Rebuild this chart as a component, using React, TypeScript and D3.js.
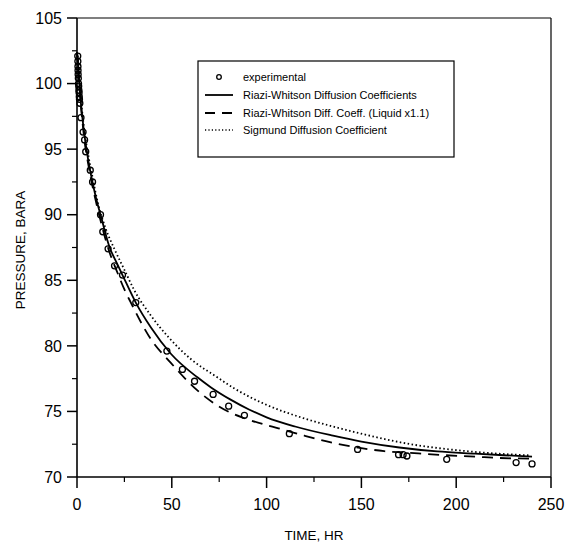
import React from "react";
import * as d3 from "d3";

const W = 567;
const H = 543;

const xTicks = [0, 50, 100, 150, 200, 250];
const yTicks = [70, 75, 80, 85, 90, 95, 100, 105];
const xMinor = [25, 75, 125, 175, 225];
const yMinor = [72.5, 77.5, 82.5, 87.5, 92.5, 97.5, 102.5];

// experimental points: [time hr, pressure bara]
const experimental: [number, number][] = [
  [0.4, 102.1], [0.45, 101.7], [0.5, 101.3], [0.55, 101.0], [0.6, 100.7],
  [0.7, 100.4], [0.8, 100.0], [0.9, 99.8], [1.0, 99.5], [1.1, 99.3],
  [1.2, 99.0], [1.3, 98.8], [1.5, 98.5], [2.1, 97.4], [3.2, 96.3],
  [4.0, 95.7], [4.6, 94.8], [7.0, 93.4], [8.2, 92.5], [12.4, 90.0],
  [13.6, 88.7], [16.4, 87.4], [19.8, 86.1], [24, 85.4], [31, 83.3],
  [47.4, 79.6], [55.6, 78.2], [62, 77.3], [71.8, 76.3], [80, 75.4],
  [88.3, 74.7], [112, 73.3], [148, 72.1], [169.6, 71.7], [172, 71.7],
  [174, 71.6], [195, 71.35], [231.6, 71.1], [240, 71.0],
];

const riaziWhitson: [number, number][] = [
  [0, 102.4], [0.5, 101.7], [1, 100.5], [2, 98.6], [3, 97.2], [4, 96.0],
  [6, 94.1], [8, 92.6], [10, 91.3], [12.6, 89.9], [17, 87.6], [21.4, 86.2],
  [24, 85.4], [31, 83.3], [39, 81.4], [49.5, 79.4], [63.5, 77.6], [70.5, 76.85],
  [81, 75.9], [90.7, 75.15], [100, 74.55], [115, 73.85], [135, 73.15],
  [150, 72.7], [170, 72.25], [190, 71.95], [210, 71.78], [225, 71.66], [240, 71.55],
];

const riaziWhitsonLiquid: [number, number][] = [
  [0, 102.4], [0.5, 101.6], [1, 100.4], [2, 98.4], [3, 96.9], [4, 95.6],
  [6, 93.8], [8, 92.3], [10, 91.0], [12, 89.8], [17, 87.2], [21, 85.7],
  [25, 84.3], [28.4, 83.3], [39, 80.5], [49.5, 78.7], [63.5, 76.6], [81, 74.9],
  [88, 74.5], [100, 73.95], [109, 73.6], [120, 73.15], [135, 72.6],
  [150, 72.2], [162, 71.97], [180, 71.8], [192, 71.68], [210, 71.55],
  [223, 71.45], [239, 71.4],
];

const sigmund: [number, number][] = [
  [0, 102.4], [0.5, 101.9], [1, 100.8], [2, 98.9], [3, 97.5], [4, 96.3],
  [6, 94.5], [8, 93.0], [11, 90.9], [15, 89.0], [20, 87.3], [25, 85.8],
  [30, 84.3], [39, 82.3], [48, 80.7], [60, 79.0], [74, 77.6], [83, 76.75],
  [100, 75.5], [118, 74.55], [135, 73.85], [150, 73.3], [176, 72.5],
  [200, 72.05], [220, 71.8], [239, 71.65],
];

const legendLabels = [
  "experimental",
  "Riazi-Whitson Diffusion Coefficients",
  "Riazi-Whitson Diff. Coeff. (Liquid x1.1)",
  "Sigmund Diffusion Coefficient",
];

const FONT = "'Liberation Sans', Arial, Helvetica, sans-serif";

export default function App() {
  const left = 77, right = 551, top = 18, bottom = 477;
  const x = d3.scaleLinear().domain([0, 250]).range([left, right]);
  const y = d3.scaleLinear().domain([70, 105]).range([bottom, top]);

  const line = d3
    .line<[number, number]>()
    .x((d) => x(d[0]))
    .y((d) => y(d[1]))
    .curve(d3.curveMonotoneX);

  const lx = 205, lx2 = 233, ltx = 243;
  const ly = [77, 95, 113, 130];

  return (
    <svg
      width={W}
      height={H}
      style={{ position: "absolute", left: 0, top: 0, background: "#fff" }}
      fontFamily={FONT}
    >
      <rect x={0} y={0} width={W} height={H} fill="#fff" />
      {/* frame */}
      <line x1={right} x2={right} y1={top} y2={bottom} stroke="#000" strokeWidth={1.2} />
      <line x1={left} x2={right} y1={top} y2={top} stroke="#000" strokeWidth={1.2} />
      <line x1={left} x2={left} y1={top} y2={bottom} stroke="#000" strokeWidth={1.6} />
      <line x1={left} x2={right} y1={bottom} y2={bottom} stroke="#000" strokeWidth={1.6} />

      {/* y ticks */}
      {yTicks.map((t) => (
        <g key={"yt" + t}>
          <line x1={left - 10} x2={left} y1={y(t)} y2={y(t)} stroke="#000" strokeWidth={1.5} />
          <text x={62} y={y(t)} dy="0.36em" textAnchor="end" fontSize={16} fill="#000">
            {t}
          </text>
        </g>
      ))}
      {yMinor.map((t) => (
        <line key={"ym" + t} x1={left - 5} x2={left} y1={y(t)} y2={y(t)} stroke="#000" strokeWidth={1.2} />
      ))}

      {/* x ticks */}
      {xTicks.map((t) => (
        <g key={"xt" + t}>
          <line x1={x(t)} x2={x(t)} y1={bottom} y2={bottom + 11} stroke="#000" strokeWidth={1.5} />
          <text x={x(t)} y={510} textAnchor="middle" fontSize={16} fill="#000">
            {t}
          </text>
        </g>
      ))}
      {xMinor.map((t) => (
        <line key={"xm" + t} x1={x(t)} x2={x(t)} y1={bottom} y2={bottom + 5} stroke="#000" strokeWidth={1.2} />
      ))}

      {/* axis titles */}
      <text
        transform={`translate(25, 250) rotate(-90)`}
        textAnchor="middle"
        fontSize={13.5}
        fill="#000"
      >
        PRESSURE, BARA
      </text>
      <text x={(left + right) / 2} y={540} textAnchor="middle" fontSize={13.5} fill="#000">
        TIME, HR
      </text>

      {/* curves */}
      <path d={line(sigmund) || ""} fill="none" stroke="#000" strokeWidth={1.8} strokeDasharray="1.5,2.5" />
      <path d={line(riaziWhitsonLiquid) || ""} fill="none" stroke="#000" strokeWidth={1.8} strokeDasharray="11,7" />
      <path d={line(riaziWhitson) || ""} fill="none" stroke="#000" strokeWidth={1.8} />

      {/* experimental */}
      {experimental.map((d, i) => (
        <circle key={"e" + i} cx={x(d[0])} cy={y(d[1])} r={3} fill="none" stroke="#000" strokeWidth={1.3} />
      ))}

      {/* legend */}
      <rect x={198} y={61} width={256} height={96} fill="#fff" stroke="#000" strokeWidth={1.2} />
      <circle cx={219} cy={ly[0]} r={2.3} fill="none" stroke="#000" strokeWidth={1.3} />
      <line x1={lx} x2={lx2} y1={ly[1]} y2={ly[1]} stroke="#000" strokeWidth={1.8} />
      <line x1={lx} x2={lx2} y1={ly[2]} y2={ly[2]} stroke="#000" strokeWidth={1.8} strokeDasharray="10,7" />
      <line x1={lx} x2={lx2} y1={ly[3]} y2={ly[3]} stroke="#000" strokeWidth={1.4} strokeDasharray="1.2,2.2" />
      {legendLabels.map((l, i) => (
        <text key={l} x={ltx} y={ly[i]} dy="0.35em" fontSize={11} fill="#000">
          {l}
        </text>
      ))}
    </svg>
  );
}
